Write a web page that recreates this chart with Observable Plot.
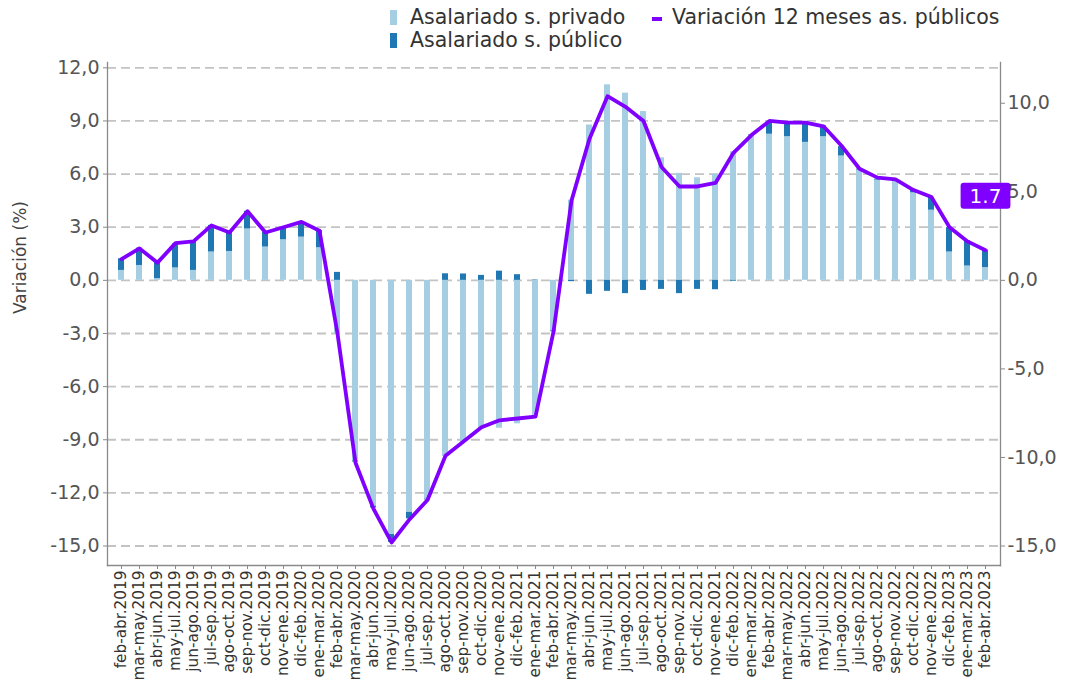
<!DOCTYPE html>
<html>
<head>
<meta charset="utf-8">
<script src="https://cdn.jsdelivr.net/npm/d3@7"></script>
<script src="https://cdn.jsdelivr.net/npm/@observablehq/plot@0.6"></script>
<style>
  html, body { margin: 0; padding: 0; background: #fff; }
  #wrap { position: relative; width: 1066px; height: 684px; font-family: "DejaVu Sans", sans-serif; }
  .lg { position: absolute; font-size: 20.5px; line-height: 24px; color: #333; white-space: nowrap; }
  .sw { position: absolute; }
  #chart { position: absolute; left: 0; top: 0; }
</style>
</head>
<body>
<div id="wrap">
  <div id="chart"></div>
  <span class="sw" style="left:390px;top:10px;width:7px;height:15px;background:#a6cee3"></span>
  <span class="lg" style="left:410px;top:5px">Asalariado s. privado</span>
  <span class="sw" style="left:390px;top:33px;width:7px;height:15px;background:#1f78b4"></span>
  <span class="lg" style="left:410px;top:28px">Asalariado s. público</span>
  <span class="sw" style="left:652px;top:17px;width:10px;height:4px;background:#7f00ff"></span>
  <span class="lg" style="left:672px;top:5px">Variación 12 meses as. públicos</span>
</div>
<script>
const categories = [
  "feb-abr.2019","mar-may.2019","abr-jun.2019","may-jul.2019","jun-ago.2019","jul-sep.2019",
  "ago-oct.2019","sep-nov.2019","oct-dic.2019","nov-ene.2019","dic-feb.2020","ene-mar.2020",
  "feb-abr.2020","mar-may.2020","abr-jun.2020","may-jul.2020","jun-ago.2020","jul-sep.2020",
  "ago-oct.2020","sep-nov.2020","oct-dic.2020","nov-ene.2020","dic-feb.2021","ene-mar.2021",
  "feb-abr.2021","mar-may.2021","abr-jun.2021","may-jul.2021","jun-ago.2021","jul-sep.2021",
  "ago-oct.2021","sep-nov.2021","oct-dic.2021","nov-ene.2021","dic-feb.2022","ene-mar.2022",
  "feb-abr.2022","mar-may.2022","abr-jun.2022","may-jul.2022","jun-ago.2022","jul-sep.2022",
  "ago-oct.2022","sep-nov.2022","oct-dic.2022","nov-ene.2022","dic-feb.2023","ene-mar.2023",
  "feb-abr.2023"
];
const privado = [
  0.56, 0.84, 0.10, 0.70, 0.56, 1.60, 1.63, 2.90, 1.88, 2.29, 2.44, 1.84,
  -3.00, -10.20, -12.75, -14.35, -13.10, -12.35, -9.94, -9.15, -8.39, -8.35, -8.10, -7.70,
  -2.85, 4.53, 8.77, 11.04, 10.57, 9.53, 6.92, 6.04, 5.79, 6.00, 7.26, 8.20,
  8.25, 8.11, 7.79, 8.11, 7.02, 6.23, 5.66, 5.66, 4.94, 3.96, 1.60, 0.81, 0.72
];
const publico = [
  0.66, 0.98, 0.93, 1.36, 1.64, 1.50, 1.10, 1.00, 0.84, 0.66, 0.84, 0.97,
  0.45, -0.06, -0.10, -0.45, -0.37, -0.05, 0.37, 0.36, 0.28, 0.52, 0.32, 0.02,
  -0.05, -0.07, -0.79, -0.62, -0.75, -0.57, -0.51, -0.75, -0.51, -0.53, -0.05, 0.03,
  0.72, 0.76, 1.13, 0.61, 0.53, 0.05, 0.05, 0.04, 0.15, 0.72, 1.38, 1.42, 0.98
];
const variacion = [
  1.2, 1.8, 1.0, 2.1, 2.2, 3.1, 2.7, 3.9, 2.7, 3.0, 3.3, 2.8,
  -3.0, -10.3, -12.9, -14.8, -13.5, -12.4, -9.9, -9.1, -8.3, -7.9, -7.8, -7.7,
  -2.9, 4.5, 8.0, 10.4, 9.8, 9.0, 6.4, 5.3, 5.3, 5.5, 7.2, 8.2,
  9.0, 8.9, 8.9, 8.7, 7.6, 6.3, 5.8, 5.7, 5.1, 4.7, 3.0, 2.2, 1.7
];
const seriesNames = ["Asalariado s. privado", "Asalariado s. público"];
const seriesColors = ["#a6cee3", "#1f78b4"];
const lineColor = "#7f00ff";
const leftTicks = [12, 9, 6, 3, 0, -3, -6, -9, -12, -15];
const rightTicks = [10, 5, 0, -5, -10, -15];
const yTitle = "Variación (%)";
const lastLabel = "1.7";

const locale = d3.formatLocale({decimal: ",", thousands: ".", grouping: [3], currency: ["", ""], minus: "-"});
const fmt = locale.format(".1f");

const bars = categories.flatMap((c, i) => [
  {cat: c, serie: seriesNames[0], v: privado[i]},
  {cat: c, serie: seriesNames[1], v: publico[i]}
]);
const lineData = categories.map((c, i) => ({cat: c, v: variacion[i]}));
const last = lineData[lineData.length - 1];

const font = "DejaVu Sans, sans-serif";

const chart = Plot.plot({
  width: 1066,
  height: 684,
  marginTop: 62,
  marginBottom: 119,
  marginLeft: 107,
  marginRight: 66,
  style: {fontFamily: font, background: "white", color: "#555"},
  x: {domain: categories, paddingInner: 0.66, paddingOuter: 0.43, label: null},
  y: {domain: [-16.1, 12.3], label: null},
  color: {domain: seriesNames, range: seriesColors},
  marks: [
    Plot.ruleY(leftTicks, {stroke: "#c3c3c3", strokeWidth: 1.8, strokeDasharray: "9,5"}),
    Plot.barY(bars, {x: "cat", y: "v", fill: "serie"}),
    Plot.line(lineData, {x: "cat", y: "v", stroke: lineColor, strokeWidth: 3.8, strokeLinejoin: "round"}),
    Plot.frame({anchor: "left", stroke: "#8a8a8a", strokeWidth: 1.3}),
    Plot.frame({anchor: "right", stroke: "#8a8a8a", strokeWidth: 1.3}),
    Plot.frame({anchor: "bottom", stroke: "#8a8a8a", strokeWidth: 1.3}),
    Plot.axisY({anchor: "left", ticks: leftTicks, tickFormat: fmt, tickSize: 4, tickPadding: 4, fontSize: 19, label: null, stroke: "#8a8a8a", fill: "#555"}),
    Plot.axisY({anchor: "right", ticks: rightTicks, tickFormat: fmt, tickSize: 4, tickPadding: 3, fontSize: 19, label: null, stroke: "#8a8a8a", fill: "#555"}),
    Plot.axisX({anchor: "bottom", tickRotate: -90, tickSize: 4, tickPadding: 1, fontSize: 15.3, label: null, stroke: "#8a8a8a", fill: "#333"}),
    Plot.text([yTitle], {frameAnchor: "left", rotate: -90, dx: -87, fontSize: 17, fill: "#444", text: d => d}),
    Plot.text([last], {x: "cat", y: "v", text: () => lastLabel, dy: -54, fill: "white", fontSize: 20, fontFamily: font})
  ]
});

document.getElementById("chart").appendChild(chart);

// purple box behind the last-value label
d3.select(chart).selectAll("text").filter(function() { return this.textContent === lastLabel; }).each(function() {
  const bb = this.getBBox();
  const t = this.getAttribute("transform");
  const rect = document.createElementNS("http://www.w3.org/2000/svg", "rect");
  rect.setAttribute("x", bb.x - 9);
  rect.setAttribute("y", bb.y - 1);
  rect.setAttribute("width", bb.width + 18);
  rect.setAttribute("height", bb.height + 2);
  rect.setAttribute("rx", 3);
  rect.setAttribute("fill", lineColor);
  if (t) rect.setAttribute("transform", t);
  this.parentNode.insertBefore(rect, this);
});
</script>
</body>
</html>
